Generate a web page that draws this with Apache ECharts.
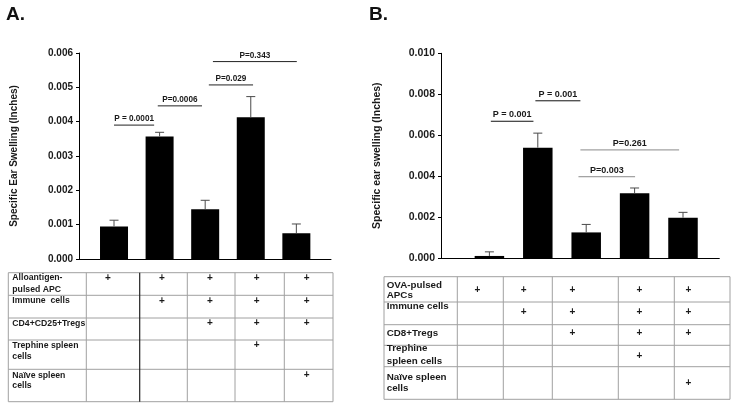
<!DOCTYPE html>
<html><head><meta charset="utf-8">
<script src="https://cdn.jsdelivr.net/npm/echarts@6/dist/echarts.min.js"></script>
<style>html,body{margin:0;padding:0;background:#fff}#c{width:731px;height:405px}</style>
</head><body><div id="c"></div>
<script>
// ---------- DATA ----------
const groupsA = [1, 2, 3, 4, 5];
const meanA = [0.00095, 0.00357, 0.00145, 0.00413, 0.00075];
const errTopA = [0.00113, 0.00369, 0.00171, 0.00473, 0.00102];
const yTicksA = [0, 0.001, 0.002, 0.003, 0.004, 0.005, 0.006];
const pLabelsA = ['P = 0.0001', 'P=0.0006', 'P=0.029', 'P=0.343'];
const pFromA = [1.0, 1.96, 3.08, 3.17];
const pToA = [1.88, 2.93, 4.05, 5.01];
const pLevelA = [0.0039, 0.00446, 0.00507, 0.00575];
const rowLabelsA = [['Alloantigen-', 'pulsed APC'], ['Immune  cells'], ['CD4+CD25+Tregs'], ['Trephine spleen', 'cells'], ['Naïve spleen', 'cells']];
const condA = [[1,1,1,1,1],[0,1,1,1,1],[0,0,1,1,1],[0,0,0,1,0],[0,0,0,0,1]];

const groupsB = [1, 2, 3, 4, 5];
const meanB = [0.0001, 0.00539, 0.00125, 0.00316, 0.00197];
const errTopB = [0.0003, 0.0061, 0.00164, 0.00342, 0.00223];
const yTicksB = [0, 0.002, 0.004, 0.006, 0.008, 0.010];
const pLabelsB = ['P = 0.001', 'P = 0.001', 'P=0.261', 'P=0.003'];
const pFromB = [1.03, 1.95, 2.88, 2.84];
const pToB = [1.91, 2.88, 4.92, 4.01];
const pLevelB = [0.00668, 0.00768, 0.00528, 0.00397];
const rowLabelsB = [['OVA-pulsed', 'APCs'], ['Immune cells'], ['CD8+Tregs'], ['Trephine', 'spleen cells'], ['Naïve spleen', 'cells']];
const condB = [[1,1,1,1,1],[0,1,1,1,1],[0,0,1,1,1],[0,0,0,1,0],[0,0,0,0,1]];

// ---------- LAYOUT / STYLE ----------
const FONT = '"Liberation Sans", Arial, sans-serif';
const layoutA = {
  cols: [8.3, 86.3, 139.7, 187.3, 235, 284.3, 333],
  rows: [272.7, 295.3, 318, 340, 369.3, 401.7],
  plusX: [108, 162, 210, 256.7, 306.7],
  plusY: [278.3, 301, 323.3, 345.7, 375.3],
  labelY: [[278, 290], [301], [324], [346, 356.7], [375.7, 386]],
  labelX: 12.3, darkCol: 2, font: 8.7
};
const layoutB = {
  cols: [384, 457.3, 503.3, 552.3, 618.3, 674.3, 730],
  rows: [276.7, 302, 324.7, 345.3, 366.7, 399.3],
  plusX: [477.3, 523.7, 572.3, 639.3, 688.3],
  plusY: [290, 312, 333.3, 356, 383.3],
  labelY: [[285, 295], [306.7], [333.3], [348.3, 361], [377, 388.7]],
  labelX: 386.7, darkCol: -1, font: 9.8
};

function tableGraphics(rowLabels, cond, L) {
  const g = [];
  const x0 = L.cols[0], x1 = L.cols[L.cols.length - 1];
  const y0 = L.rows[0], y1 = L.rows[L.rows.length - 1];
  L.rows.forEach(y => g.push({type: 'line', shape: {x1: x0, y1: y, x2: x1, y2: y}, style: {stroke: '#a0a0a0', lineWidth: 1}}));
  L.cols.forEach((x, i) => g.push({type: 'line', z: i === L.darkCol ? 10 : 5, shape: {x1: x, y1: y0, x2: x, y2: y1}, style: {stroke: i === L.darkCol ? '#222' : '#a0a0a0', lineWidth: i === L.darkCol ? 1.2 : 1}}));
  rowLabels.forEach((lines, r) => {
    lines.forEach((t, k) => g.push({type: 'text', x: L.labelX, y: L.labelY[r][k], style: {text: t, font: 'bold ' + L.font + 'px ' + FONT, fill: '#1a1a1a', textVerticalAlign: 'middle', textAlign: 'left'}}));
    cond[r].forEach((v, c) => { if (v) g.push({type: 'text', x: L.plusX[c], y: L.plusY[r], style: {text: '+', font: 'bold 10px ' + FONT, fill: '#1a1a1a', textVerticalAlign: 'middle', textAlign: 'center'}}); });
  });
  return g;
}

function errSeries(gi, groups, mean, top, cap) {
  return {
    type: 'custom', xAxisIndex: gi, yAxisIndex: gi, z: 3,
    data: groups.map((g, i) => [g, mean[i], top[i]]),
    renderItem: function (params, api) {
      const a = api.coord([api.value(0), api.value(1)]);
      const b = api.coord([api.value(0), api.value(2)]);
      return {type: 'group', children: [
        {type: 'line', shape: {x1: a[0], y1: a[1], x2: b[0], y2: b[1]}, style: {stroke: '#4a4a4a', lineWidth: 1}},
        {type: 'line', shape: {x1: b[0] - cap / 2, y1: b[1], x2: b[0] + cap / 2, y2: b[1]}, style: {stroke: '#4a4a4a', lineWidth: 1}}
      ]};
    }
  };
}

function pSeries(gi, labels, from, to, level, colors, fs) {
  return {
    type: 'custom', xAxisIndex: gi, yAxisIndex: gi, z: 4,
    data: labels.map((l, i) => [from[i], to[i], level[i], i]),
    renderItem: function (params, api) {
      const a = api.coord([api.value(0), api.value(2)]);
      const b = api.coord([api.value(1), api.value(2)]);
      const i = api.value(3);
      return {type: 'group', children: [
        {type: 'line', shape: {x1: a[0], y1: a[1], x2: b[0], y2: b[1]}, style: {stroke: colors[i], lineWidth: 1}},
        {type: 'text', x: (a[0] + b[0]) / 2, y: a[1] - 2, style: {text: labels[i], font: 'bold ' + fs + 'px ' + FONT, fill: '#1a1a1a', textAlign: 'center', textVerticalAlign: 'bottom'}}
      ]};
    }
  };
}

function yAxisCfg(gi, ticks, name, fs, gap) {
  return {
    type: 'value', gridIndex: gi, min: ticks[0], max: ticks[ticks.length - 1], interval: ticks[1] - ticks[0],
    name: name, nameLocation: 'middle', nameGap: gap, nameRotate: 90,
    nameTextStyle: {fontFamily: FONT, fontWeight: 'bold', fontSize: fs, color: '#1a1a1a'},
    axisLine: {show: true, lineStyle: {color: '#000', width: 1}},
    axisTick: {show: true, inside: false, length: 3, lineStyle: {color: '#000'}},
    splitLine: {show: false},
    axisLabel: {fontFamily: FONT, fontWeight: 'bold', fontSize: fs, color: '#1a1a1a', margin: 6, formatter: v => v.toFixed(3)}
  };
}
function xAxisCfg(gi, min, max) {
  return {type: 'value', gridIndex: gi, min: min, max: max,
    axisLine: {show: true, onZero: false, lineStyle: {color: '#000', width: 1}},
    axisTick: {show: false}, axisLabel: {show: false}, splitLine: {show: false}};
}

const chart = echarts.init(document.getElementById('c'), null, {renderer: 'canvas'});
chart.setOption({
  animation: false,
  backgroundColor: '#fff',
  title: [
    {text: 'A.', left: 1, top: 0, textStyle: {fontFamily: FONT, fontWeight: 'bold', fontSize: 19, color: '#111'}},
    {text: 'B.', left: 364, top: 0, textStyle: {fontFamily: FONT, fontWeight: 'bold', fontSize: 19, color: '#111'}}
  ],
  grid: [
    {left: 79, top: 53, right: 400, bottom: 146},
    {left: 441, top: 53.3, right: 11.7, bottom: 147}
  ],
  xAxis: [xAxisCfg(0, 0.232, 5.76), xAxisCfg(1, 0, 5.75)],
  yAxis: [
    yAxisCfg(0, yTicksA, 'Specific Ear Swelling (Inches)', 10, 60),
    yAxisCfg(1, yTicksB, 'Specific ear swelling (Inches)', 10.5, 58)
  ],
  series: [
    {type: 'bar', xAxisIndex: 0, yAxisIndex: 0, barWidth: 28, itemStyle: {color: '#000'}, data: groupsA.map((g, i) => [g, meanA[i]])},
    errSeries(0, groupsA, meanA, errTopA, 9),
    pSeries(0, pLabelsA, pFromA, pToA, pLevelA, ['#222', '#222', '#222', '#222'], 8.2),
    {type: 'bar', xAxisIndex: 1, yAxisIndex: 1, barWidth: 29.5, itemStyle: {color: '#000'}, data: groupsB.map((g, i) => [g, meanB[i]])},
    errSeries(1, groupsB, meanB, errTopB, 9),
    pSeries(1, pLabelsB, pFromB, pToB, pLevelB, ['#111', '#111', '#8a8a8a', '#8a8a8a'], 9)
  ],
  graphic: tableGraphics(rowLabelsA, condA, layoutA).concat(tableGraphics(rowLabelsB, condB, layoutB))
});
</script></body></html>
